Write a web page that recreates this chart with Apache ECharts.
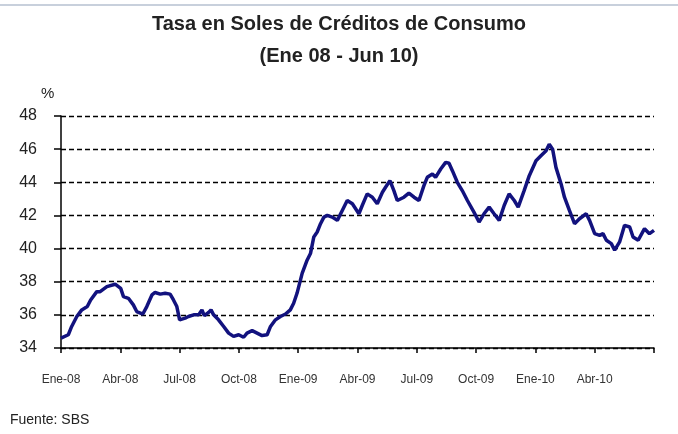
<!DOCTYPE html>
<html>
<head>
<meta charset="utf-8">
<script src="https://cdn.jsdelivr.net/npm/echarts@6/dist/echarts.min.js"></script>
<style>
html,body{margin:0;padding:0;background:#fff;}
#chart{width:678px;height:434px;}
</style>
</head>
<body>
<div id="chart"></div>
<script>
// months since Jan-2008
var months = [0.00,0.37,0.54,0.80,1.05,1.33,1.50,1.81,1.98,2.32,2.74,2.82,3.02,3.16,3.41,3.66,3.83,4.14,4.34,4.60,4.76,5.02,5.27,5.52,5.69,5.86,6.00,6.28,6.45,6.71,6.96,7.13,7.25,7.47,7.59,7.72,7.97,8.23,8.48,8.73,8.99,9.24,9.41,9.67,9.92,10.17,10.43,10.60,10.85,11.10,11.36,11.60,11.77,11.94,12.20,12.45,12.62,12.79,12.96,13.13,13.30,13.47,13.72,13.98,14.23,14.48,14.74,15.07,15.24,15.49,15.75,16.00,16.26,16.42,16.64,16.84,17.01,17.35,17.60,17.86,18.11,18.36,18.53,18.79,18.95,19.21,19.46,19.63,19.80,20.05,20.30,20.56,20.89,21.15,21.40,21.66,21.91,22.17,22.42,22.67,22.93,23.13,23.43,23.69,24.03,24.28,24.54,24.70,24.87,25.04,25.30,25.47,25.72,25.98,26.23,26.57,26.74,27.00,27.25,27.42,27.59,27.84,28.01,28.26,28.51,28.77,28.94,29.20,29.52,29.77,30.00];
var rates = [34.6,34.8,35.3,35.9,36.3,36.5,36.9,37.4,37.4,37.7,37.85,37.9,37.6,37.1,37.0,36.6,36.2,36.05,36.5,37.2,37.35,37.25,37.3,37.25,36.9,36.5,35.7,35.8,35.9,36.0,36.0,36.3,35.95,36.15,36.3,36.0,35.7,35.3,34.9,34.7,34.8,34.65,34.9,35.05,34.9,34.75,34.8,35.3,35.7,35.9,36.05,36.3,36.7,37.3,38.5,39.3,39.7,40.7,41.0,41.5,41.9,42.0,41.9,41.7,42.3,42.9,42.7,42.1,42.6,43.3,43.1,42.7,43.4,43.7,44.1,43.5,42.9,43.1,43.35,43.1,42.9,43.8,44.3,44.5,44.3,44.8,45.2,45.15,44.7,44.0,43.5,42.9,42.2,41.6,42.1,42.5,42.1,41.7,42.6,43.3,42.9,42.5,43.5,44.4,45.3,45.6,45.9,46.3,46.0,44.9,43.9,43.1,42.3,41.5,41.8,42.1,41.7,40.9,40.8,40.9,40.5,40.3,39.9,40.4,41.4,41.3,40.7,40.5,41.2,40.9,41.1];
var tickLabels = ['Ene-08','Abr-08','Jul-08','Oct-08','Ene-09','Abr-09','Jul-09','Oct-09','Ene-10','Abr-10',''];

var data = months.map(function(m,i){return [m, rates[i]];});
var chart = echarts.init(document.getElementById('chart'), null, {renderer:'canvas'});
var font = '"Liberation Sans", Arial, sans-serif';
chart.setOption({
  animation:false,
  backgroundColor:'#fff',
  title:[
    {text:'Tasa en Soles de Créditos de Consumo', left:'center', top:9, textStyle:{fontFamily:font, fontSize:20, fontWeight:'bold', color:'#222'}},
    {text:'(Ene 08 - Jun 10)', left:'center', top:41, textStyle:{fontFamily:font, fontSize:20, fontWeight:'bold', color:'#222'}}
  ],
  graphic:[
    {type:'line', shape:{x1:0,y1:5,x2:678,y2:5}, style:{stroke:'#c8d0dc', lineWidth:2}},
    {type:'text', left:41, top:86, style:{text:'%', font:'15px "Liberation Sans", Arial, sans-serif', fill:'#222'}},
    {type:'text', left:10, top:413, style:{text:'Fuente: SBS', font:'14px "Liberation Sans", Arial, sans-serif', fill:'#222'}}
  ],
  grid:{left:61, right:24, top:116, bottom:86},
  xAxis:{
    type:'value', min:0, max:30, interval:3,
    axisLine:{lineStyle:{color:'#000', width:1.5}},
    axisTick:{show:true, length:5, lineStyle:{color:'#000', width:1.5}},
    splitLine:{show:false},
    axisLabel:{margin:26, fontFamily:font, fontSize:12, color:'#333',
      formatter:function(v){return tickLabels[Math.round(v/3)] || '';}}
  },
  yAxis:{
    type:'value', min:34, max:48, interval:2,
    axisLine:{show:true, lineStyle:{color:'#000', width:1.5}},
    axisTick:{show:true, length:7, lineStyle:{color:'#000', width:1.5}},
    splitLine:{show:true, lineStyle:{color:'#000', type:[5,3], width:1.3}},
    axisLabel:{margin:24, fontFamily:font, fontSize:16, color:'#222'}
  },
  series:[{
    type:'line', data:data, showSymbol:false, smooth:false,
    lineStyle:{color:'#12127e', width:3.5}, z:5
  }]
});
</script>
</body>
</html>
